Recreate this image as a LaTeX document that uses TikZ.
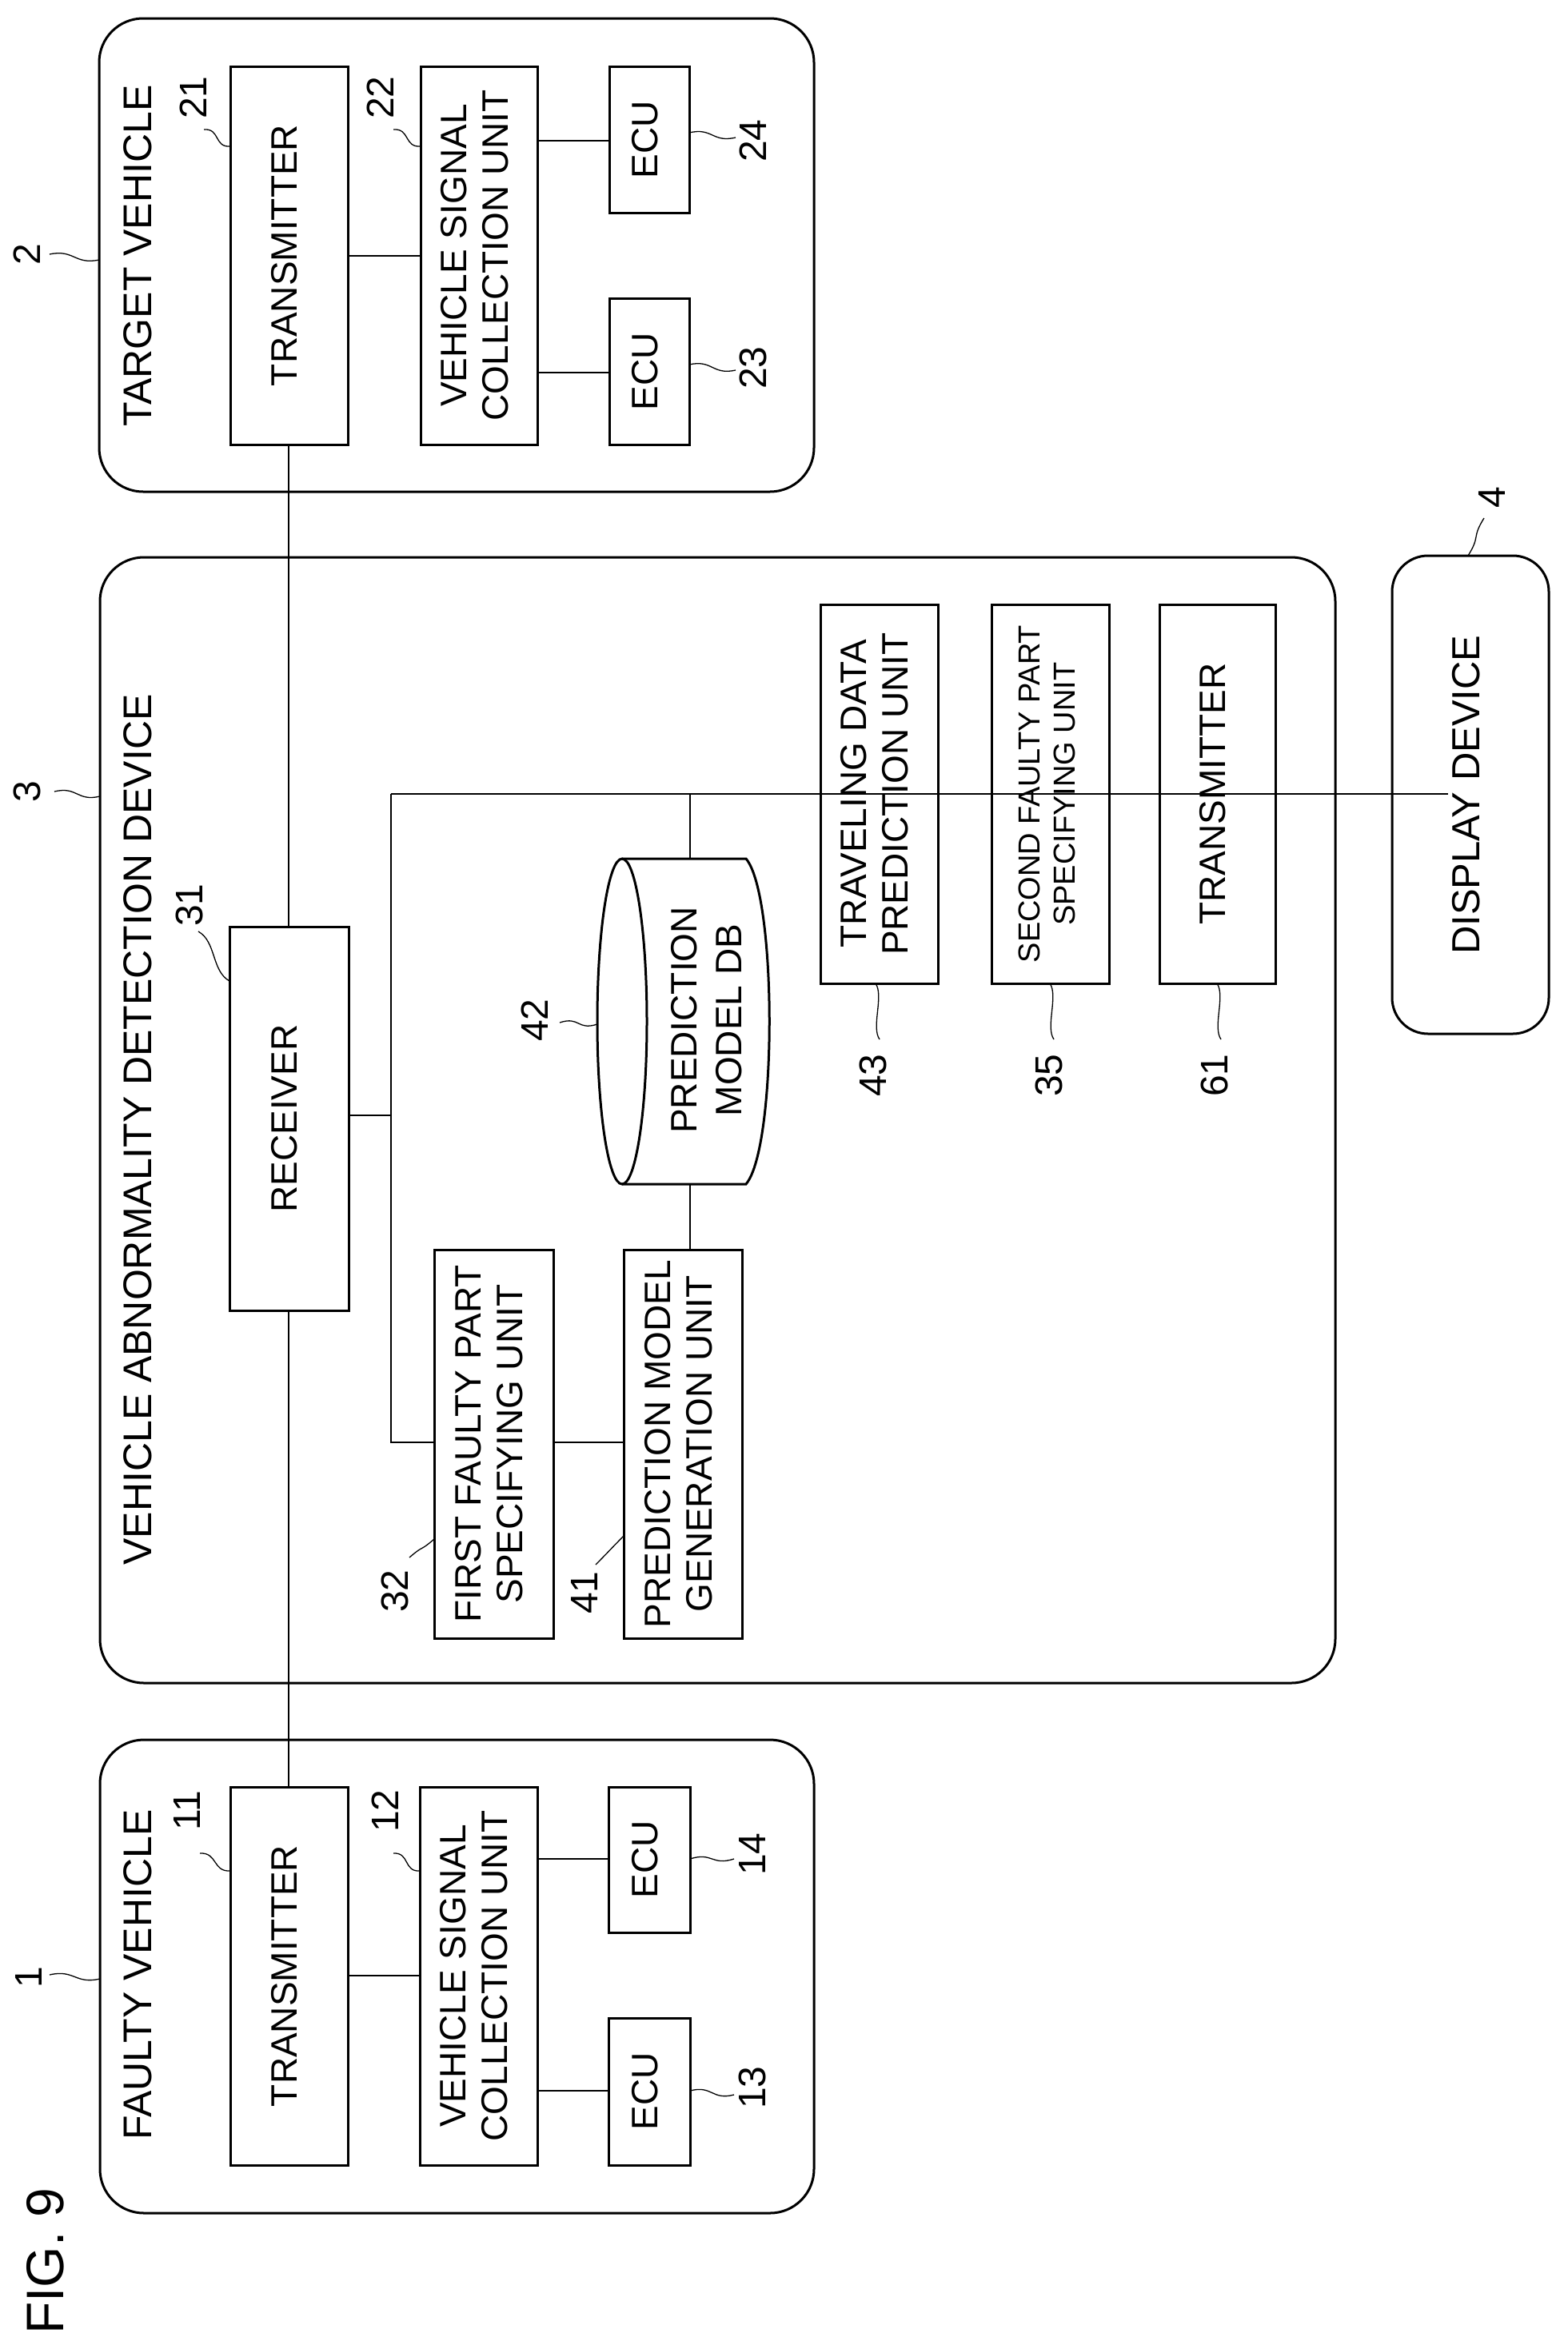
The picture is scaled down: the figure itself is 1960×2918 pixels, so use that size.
\documentclass[tikz,border=0pt]{standalone}
\usepackage{fontspec}
\setmainfont{Liberation Sans}
\usetikzlibrary{calc}
\begin{document}
\begin{tikzpicture}[x=1pt,y=-1pt,
  box/.style={draw,line width=3pt,inner sep=0pt,font=\fontsize{46}{52}\selectfont},
  grp/.style={draw,line width=3pt,rounded corners=55pt},
  con/.style={line width=1.6pt},
  lead/.style={line width=1.3pt},
  num/.style={inner sep=0pt,font=\fontsize{48}{52}\selectfont},
  ttl/.style={inner sep=0pt,font=\fontsize{50}{56}\selectfont}]
\useasboundingbox (0,0) rectangle (1960,2918);
\newcommand\rt[1]{\rotatebox{90}{\begin{tabular}{@{}c@{}}#1\end{tabular}}}
\newcommand\mybox[6]{\node[box,minimum width=#4-#3,minimum height=#6-#5] (#1) at ({(#3+#4)/2},{(#5+#6)/2}) {\rt{#2}};}
\newcommand\wav[2]{\draw[lead] (#1) .. controls ($(#1)!0.35!(#2)+(9,-9)$) and ($(#1)!0.65!(#2)+(-9,9)$) .. (#2);}
% group boxes
\draw[grp] (124,23) rectangle (1018,615);
\draw[grp] (125,2176) rectangle (1018,2768);
\draw[grp] (125,697) rectangle (1670,2105);
\draw[line width=3pt,rounded corners=45pt] (1741,695) rectangle (1937,1293);
\node[ttl] (tv) at (178,320) {\rt{TARGET VEHICLE}};
\node[ttl] (fv) at (178,2470) {\rt{FAULTY VEHICLE}};
\node[ttl] (vd) at (178,1413) {\rt{VEHICLE ABNORMALITY DETECTION DEVICE}};
\node[inner sep=0pt,font=\fontsize{49}{56}\selectfont] (dd) at (1839,994) {\rt{DISPLAY DEVICE}};
\node[inner sep=0pt,font=\fontsize{66}{70}\selectfont] (fig) at (65,2828) {\rt{FIG. 9}};
% target vehicle
\mybox{tr21}{TRANSMITTER}{288}{435}{83}{556}
\mybox{vs22}{VEHICLE SIGNAL\\COLLECTION UNIT}{526}{672}{83}{556}
\mybox{ecu24}{ECU}{762}{862}{83}{266}
\mybox{ecu23}{ECU}{762}{862}{373}{556}
% faulty vehicle
\mybox{tr11}{TRANSMITTER}{288}{435}{2235}{2708}
\mybox{vs12}{VEHICLE SIGNAL\\COLLECTION UNIT}{525}{672}{2235}{2708}
\mybox{ecu14}{ECU}{761}{863}{2235}{2417}
\mybox{ecu13}{ECU}{761}{863}{2524}{2708}
% device
\mybox{rx31}{RECEIVER}{287}{436}{1159}{1639}
\mybox{ff32}{FIRST FAULTY PART\\SPECIFYING UNIT}{543}{692}{1563}{2049}
\mybox{pm41}{PREDICTION MODEL\\GENERATION UNIT}{780}{928}{1563}{2049}
\mybox{td43}{TRAVELING DATA\\PREDICTION UNIT}{1026}{1173}{756}{1230}
\node[box,minimum width=147,minimum height=474,font=\fontsize{38}{44}\selectfont] (sf35) at (1313.5,993) {\rt{SECOND FAULTY PART\\SPECIFYING UNIT}};
\mybox{tx61}{TRANSMITTER}{1450}{1595}{756}{1230}
% cylinder
\draw[line width=3pt,fill=white] (778,1074) -- (933,1074) .. controls (972,1120) and (972,1435) .. (933,1481) -- (778,1481);
\draw[line width=3pt] (778,1277.5) ellipse [x radius=31,y radius=203.5];
\coordinate (dbt) at (863,1074);
\coordinate (dbb) at (863,1481);
\node[inner sep=0pt,font=\fontsize{46}{56}\selectfont] (db42) at (888,1276) {\rt{PREDICTION\\MODEL DB}};
% connectors
\draw[con] (tr21.east |- 0,320) -- (vs22.west |- 0,320);
\draw[con] (vs22.east |- 0,176) -- (ecu24.west |- 0,176);
\draw[con] (vs22.east |- 0,466) -- (ecu23.west |- 0,466);
\draw[con] (tr11.east |- 0,2471) -- (vs12.west |- 0,2471);
\draw[con] (vs12.east |- 0,2325) -- (ecu14.west |- 0,2325);
\draw[con] (vs12.east |- 0,2615) -- (ecu13.west |- 0,2615);
\draw[con] (tr21.south -| 361,0) -- (rx31.north -| 361,0);
\draw[con] (rx31.south -| 361,0) -- (tr11.north -| 361,0);
\coordinate (bj) at (489,993);
\draw[con] (bj) -- (dd.west |- bj);
\draw[con] (bj) -- (489,1804) -- (ff32.west |- 0,1804);
\draw[con] (rx31.east |- 0,1395) -- (489,1395);
\draw[con] (ff32.east |- 0,1804) -- (pm41.west |- 0,1804);
\draw[con] (pm41.north -| dbb) -- (dbb);
\draw[con] (dbt) -- (dbt |- bj);
% reference numerals
\node[num] (n2) at (40,318) {\rt{2}};  \wav{62,318}{124,325}
\node[num] (n21) at (248,122) {\rt{21}}; \wav{255,162}{288,183}
\node[num] (n22) at (482,122) {\rt{22}}; \wav{492,162}{526,183}
\node[num] (n24) at (948,176) {\rt{24}}; \wav{862,166}{920,172}
\node[num] (n23) at (948,460) {\rt{23}}; \wav{862,456}{920,463}
\node[num] (n1) at (42,2473) {\rt{1}};  \wav{62,2470}{125,2475}
\node[num] (n11) at (240,2265) {\rt{11}}; \wav{250,2318}{288,2340}
\node[num] (n12) at (488,2265) {\rt{12}}; \wav{492,2318}{525,2340}
\node[num] (n14) at (947,2319) {\rt{14}}; \wav{863,2325}{918,2325}
\node[num] (n13) at (947,2611) {\rt{13}}; \wav{863,2615}{918,2620}
\node[num] (n3) at (40,990) {\rt{3}};  \wav{68,990}{125,996}
\node[num] (n31) at (243,1132) {\rt{31}}; \wav{248,1165}{287,1227}
\node[num] (n32) at (500,1990) {\rt{32}}; \wav{512,1948}{543,1925}
\node[num] (n41) at (737,1992) {\rt{41}}; \wav{745,1957}{780,1921}
\node[num] (n42) at (675,1276) {\rt{42}}; \wav{700,1279}{747,1281}
\node[num] (n43) at (1098,1345) {\rt{43}}; \wav{1095,1230}{1100,1300}
\node[num] (n35) at (1318,1345) {\rt{35}}; \wav{1313,1230}{1318,1300}
\node[num] (n61) at (1525,1345) {\rt{61}}; \wav{1522,1230}{1527,1300}
\node[num] (n4) at (1872,622) {\rt{4}}; \wav{1836,695}{1856,648}
\end{tikzpicture}
\end{document}
